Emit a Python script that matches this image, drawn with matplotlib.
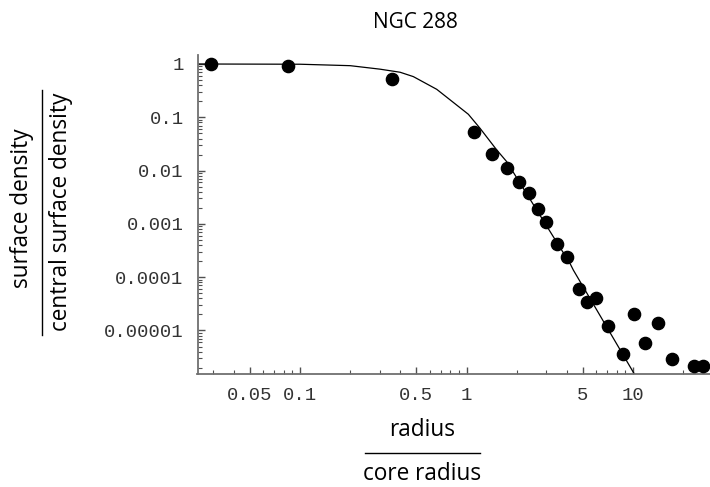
import matplotlib
matplotlib.use("Agg")
import matplotlib.pyplot as plt
from matplotlib.lines import Line2D
from matplotlib.ticker import FixedLocator, NullFormatter, FixedFormatter
import numpy as np

# observed data (radius / core radius, surface density / central)
radius = [0.0291, 0.0844, 0.355, 1.114, 1.43, 1.743, 2.059, 2.364, 2.677, 3.003,
          3.48, 4.03, 4.72, 5.32, 6.0, 7.11, 8.67, 10.2, 11.75, 14.1, 17.2, 23.3, 26.4]
density = [1.0, 0.917, 0.516, 0.0523, 0.0205, 0.01105, 0.00603, 0.0038, 0.00193, 0.0011,
           4.2e-4, 2.43e-4, 6.1e-5, 3.38e-5, 4.02e-5, 1.21e-5, 3.57e-6, 2.07e-5, 5.75e-6,
           1.36e-5, 2.88e-6, 2.13e-6, 2.13e-6]

# model curve
curve_r = [0.0242, 0.1, 0.2, 0.302, 0.399, 0.479, 0.662, 1.025, 1.205, 1.518, 1.743,
           3.32, 4.18, 4.38, 10.18]
curve_d = [1.0, 0.99, 0.93, 0.80, 0.70, 0.58, 0.335, 0.114, 0.0622, 0.0244, 0.0147,
           5.75e-4, 1.82e-4, 1.36e-4, 1.53e-6]

x_major = [0.05, 0.1, 0.5, 1, 5, 10]
x_major_labels = ["0.05", "0.1", "0.5", "1", "5", "10"]
y_major = [1, 0.1, 0.01, 0.001, 0.0001, 0.00001]
y_major_labels = ["1", "0.1", "0.01", "0.001", "0.0001", "0.00001"]

W, H = 710, 487
fig = plt.figure(figsize=(W / 100, H / 100), dpi=100)
ax = fig.add_axes([197.5 / W, (H - 373.5) / H, (W - 197.5) / W, (373.5 - 55) / H])
ax.set_xscale("log")
ax.set_yscale("log")

ax.plot(curve_r, curve_d, color="black", lw=0.9, zorder=2)
ax.plot(radius, density, "o", color="black", ms=8.8, zorder=3)

ax.set_xlim(0.0242, 29.0)
ax.set_ylim(1.56e-6, 1.475)

for s in ["top", "right"]:
    ax.spines[s].set_visible(False)
for s in ["left", "bottom"]:
    ax.spines[s].set_color("#707070")
    ax.spines[s].set_linewidth(1.3)

mono = "Liberation Mono"
ax.xaxis.set_major_locator(FixedLocator(x_major))
ax.xaxis.set_major_formatter(FixedFormatter(x_major_labels))
xminor = [m * 10.0 ** e for e in range(-2, 2) for m in range(2, 10)]
xminor = [v for v in xminor if v not in x_major]
ax.xaxis.set_minor_locator(FixedLocator(xminor))
ax.xaxis.set_minor_formatter(NullFormatter())

ax.yaxis.set_major_locator(FixedLocator(y_major))
ax.yaxis.set_major_formatter(FixedFormatter(y_major_labels))
yminor = [m * 10.0 ** e for e in range(-6, 0) for m in range(2, 10)]
ax.yaxis.set_minor_locator(FixedLocator(yminor))
ax.yaxis.set_minor_formatter(NullFormatter())

ax.tick_params(which="major", direction="in", length=5, width=1.0, color="#505050", pad=10)
ax.tick_params(which="minor", direction="in", length=3, width=0.8, color="#505050")
for lab in ax.get_xticklabels() + ax.get_yticklabels():
    lab.set_fontfamily(mono)
    lab.set_fontsize(13.6)
    lab.set_color("#333333")

sans = "Open Sans"
fs = 16.3
fig.text(415 / W, 1 - 22 / H, "NGC 288", ha="center", va="center", fontsize=15, family=sans)

# x label as fraction
fig.text(422 / W, 1 - 430 / H, "radius", ha="center", va="center", fontsize=fs, family=sans)
fig.add_artist(Line2D([365 / W, 480 / W], [1 - 453 / H, 1 - 453 / H], color="black", lw=1.0))
fig.text(422 / W, 1 - 474 / H, "core radius", ha="center", va="center", fontsize=fs, family=sans)

# y label as fraction
fig.text(22 / W, 1 - 208 / H, "surface density", ha="center", va="center", rotation=90,
         fontsize=fs, family=sans)
fig.add_artist(Line2D([41.7 / W, 41.7 / W], [1 - 90 / H, 1 - 335 / H], color="black", lw=1.0))
fig.text(61 / W, 1 - 212 / H, "central surface density", ha="center", va="center", rotation=90,
         fontsize=fs, family=sans)

fig.savefig("out.png", dpi=100)
